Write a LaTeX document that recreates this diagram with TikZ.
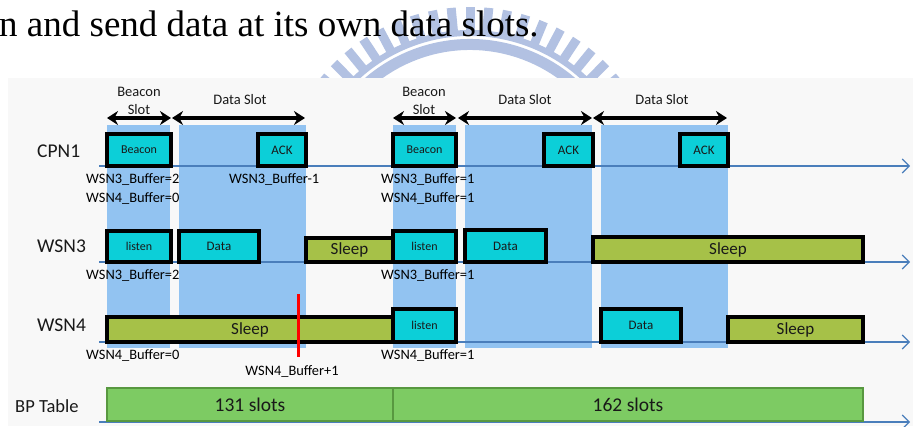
\documentclass[tikz,border=0pt]{standalone}
\usepackage{fontspec}
\setmainfont{Carlito}
\newfontfamily\headserif{Liberation Serif}
\usetikzlibrary{arrows.meta}

\definecolor{slotblue}{RGB}{146,195,241}
\definecolor{evcyan}{RGB}{12,207,216}
\definecolor{sleepolive}{RGB}{166,193,72}
\definecolor{bpgreen}{RGB}{125,203,99}
\definecolor{bpedge}{RGB}{88,152,64}
\definecolor{axisblue}{RGB}{74,126,187}
\definecolor{panelgray}{RGB}{248,248,248}
\definecolor{markblue}{RGB}{178,193,226}
\definecolor{inktext}{RGB}{25,25,25}

% box from (x1,y1) to (x2,y2), top-left anchored
\newcommand\boxat[7]{%
  \node[#2, anchor=north west, minimum width={(#5-#3)*1pt},
        minimum height={(#6-#4)*1pt}] (#1) at (#3,#4) {#7};}

\tikzset{
  slotcol/.style={fill=slotblue, draw=none, inner sep=0pt, outer sep=0pt},
  evbox/.style={draw=black, line width=3.4pt, fill=evcyan, inner sep=0pt,
                outer sep=0pt, text=inktext, font=\fontsize{12}{14}\selectfont},
  ackbox/.style={evbox, font=\fontsize{13}{15}\selectfont},
  sleepbox/.style={draw=black, line width=3.4pt, fill=sleepolive, inner sep=0pt,
                outer sep=0pt, text=inktext, font=\fontsize{17}{20}\selectfont},
  bpbox/.style={draw=bpedge, line width=2.6pt, fill=bpgreen, inner sep=0pt,
                outer sep=0pt, text=inktext, font=\fontsize{19.5}{22}\selectfont},
  axisline/.style={draw=axisblue, line width=1.1pt,
                -{Straight Barb[length=7pt,width=14pt,line width=1.1pt]}},
  spanarrow/.style={line width=3.2pt,
                {Stealth[length=11pt,width=14pt]}-{Stealth[length=11pt,width=14pt]}},
  rowlabel/.style={anchor=west, inner sep=0pt, text=inktext,
                font=\fontsize{19.5}{22}\selectfont},
  bufnote/.style={anchor=west, inner sep=0pt, text=black,
                font=\fontsize{14.4}{16}\selectfont},
  headlabel/.style={inner sep=0pt, text=inktext, font=\fontsize{14.5}{17}\selectfont},
}

\begin{document}
\begin{tikzpicture}[x=1pt,y=-1pt]
\useasboundingbox (0,0) rectangle (913,426);
\fill[white] (0,0) rectangle (913,426);

% faint university emblem behind the heading
\coordinate (logoC) at (470,200);
\begin{scope}
  \clip (0,0) rectangle (913,78);
  \foreach \k in {-11,...,11} {
    \pgfmathsetmacro\ang{90+5.6*\k}
    \draw[markblue, line width=9pt] (logoC) ++(\ang:168pt) -- ++(\ang:25pt);
  }
  \draw[markblue, line width=6pt] (logoC) ++(25:167pt)
      arc[start angle=25, end angle=155, radius=167pt];
  \draw[markblue, line width=11pt] (logoC) ++(25:155.5pt)
      arc[start angle=25, end angle=155, radius=155.5pt];
\end{scope}

\node[anchor=base west, inner sep=0pt, font=\headserif\fontsize{37}{40}\selectfont]
  (headline) at (-1,36) {n and send data at its own data slots.};

% diagram panel
\fill[panelgray] (8,78) rectangle (913,426);

% slot columns
\boxat{colA}{slotcol}{107}{125}{170}{348}{}
\boxat{colB}{slotcol}{179}{125}{306}{348}{}
\boxat{colC}{slotcol}{393}{125}{456}{348}{}
\boxat{colD}{slotcol}{465}{125}{592}{348}{}
\boxat{colE}{slotcol}{601}{125}{728}{348}{}

% slot span arrows and titles
\coordinate (sA1) at (107,118); \coordinate (sA2) at (171,118);
\coordinate (sB1) at (172,118); \coordinate (sB2) at (305,118);
\coordinate (sC1) at (393,118); \coordinate (sC2) at (456,118);
\coordinate (sD1) at (458,118); \coordinate (sD2) at (592,118);
\coordinate (sE1) at (593,118); \coordinate (sE2) at (727,118);
\draw[spanarrow] (sA1) -- (sA2);
\draw[spanarrow] (sB1) -- (sB2);
\draw[spanarrow] (sC1) -- (sC2);
\draw[spanarrow] (sD1) -- (sD2);
\draw[spanarrow] (sE1) -- (sE2);
\node[headlabel] (tA1) at (139,92) {Beacon};
\node[headlabel] (tA2) at (139,110) {Slot};
\node[headlabel] (tB) at (240,100) {Data Slot};
\node[headlabel] (tC1) at (424,92) {Beacon};
\node[headlabel] (tC2) at (424,110) {Slot};
\node[headlabel] (tD) at (525,100) {Data Slot};
\node[headlabel] (tE) at (662,100) {Data Slot};

% time axes
\coordinate (cpnS) at (99,166);  \coordinate (cpnE) at (910,166);
\coordinate (w3S) at (99,262);   \coordinate (w3E) at (910,262);
\coordinate (w4S) at (99,342);   \coordinate (w4E) at (910,342);
\coordinate (bpS) at (99,422);   \coordinate (bpE) at (910,422);
\draw[axisline] (cpnS) -- (cpnE);
\draw[axisline] (w3S) -- (w3E);
\draw[axisline] (w4S) -- (w4E);
\draw[axisline] (bpS) -- (bpE);

% row labels
\node[rowlabel] (lCPN) at (37,151) {CPN1};
\node[rowlabel] (lW3) at (37,246) {WSN3};
\node[rowlabel] (lW4) at (37,325) {WSN4};
\node[rowlabel, font=\fontsize{18.5}{22}\selectfont] (lBP) at (15,406) {BP Table};

% CPN1 activity
\boxat{cBeacon1}{evbox}{107}{134}{171}{166}{Beacon}
\boxat{cAck1}{ackbox}{258}{134}{306}{166}{ACK}
\boxat{cBeacon2}{evbox}{393}{134}{456}{166}{Beacon}
\boxat{cAck2}{ackbox}{544}{134}{593}{166}{ACK}
\boxat{cAck3}{ackbox}{680}{134}{728}{166}{ACK}

% WSN3 activity
\boxat{aListen1}{evbox}{107}{231}{171}{262}{listen}
\boxat{aData1}{ackbox}{179}{231}{259}{262}{Data}
\boxat{aSleep1}{sleepbox}{306}{238}{393}{262}{Sleep}
\boxat{aListen2}{evbox}{393}{231}{456}{262}{listen}
\boxat{aData2}{ackbox}{465}{230}{546}{262}{Data}
\boxat{aSleep2}{sleepbox}{593}{237}{863}{262}{Sleep}

% WSN4 activity
\boxat{bSleep1}{sleepbox}{107}{317}{393}{342}{Sleep}
\boxat{bListen}{evbox}{393}{309}{456}{342}{listen}
\boxat{bData}{ackbox}{601}{309}{681}{342}{Data}
\boxat{bSleep2}{sleepbox}{728}{317}{863}{342}{Sleep}

% BP table
\boxat{bp1}{bpbox}{107}{388}{393}{421}{131 slots}
\boxat{bp2}{bpbox}{393}{388}{863}{421}{162 slots}

% buffer annotations
\node[bufnote] (n1) at (86,179) {WSN3\_Buffer=2};
\node[bufnote] (n2) at (86,198) {WSN4\_Buffer=0};
\node[bufnote] (n3) at (229,179) {WSN3\_Buffer-1};
\node[bufnote] (n4) at (381,179) {WSN3\_Buffer=1};
\node[bufnote] (n5) at (381,198) {WSN4\_Buffer=1};
\node[bufnote] (n6) at (86,275) {WSN3\_Buffer=2};
\node[bufnote] (n7) at (381,275) {WSN3\_Buffer=1};
\node[bufnote] (n8) at (86,355) {WSN4\_Buffer=0};
\node[bufnote] (n9) at (381,355) {WSN4\_Buffer=1};
\node[bufnote, anchor=center] (n10) at (292,371) {WSN4\_Buffer+1};

% data arrival marker
\coordinate (redT) at (298,294);
\coordinate (redB) at (298,357);
\draw[red, line width=3pt] (redT) -- (redB);
\end{tikzpicture}
\end{document}
